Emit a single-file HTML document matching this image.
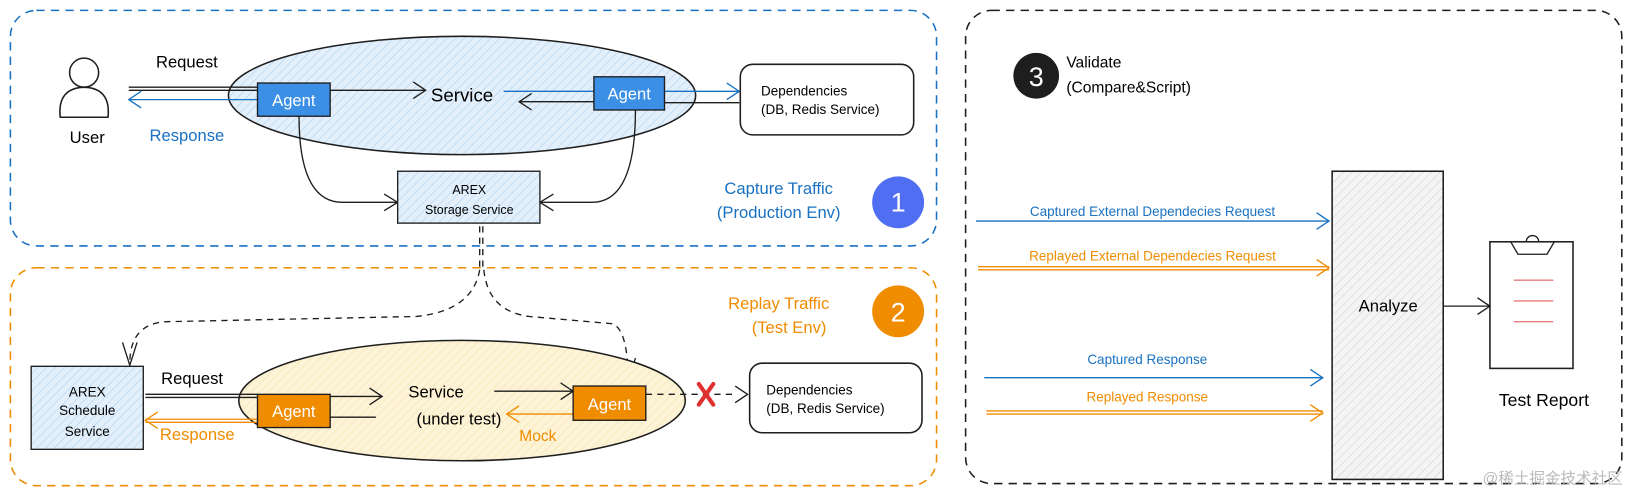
<!DOCTYPE html>
<html><head><meta charset="utf-8"><style>
html,body{margin:0;padding:0;background:#fff;}
svg{display:block;}
text{font-family:"Liberation Sans","Noto Sans CJK SC",sans-serif;}
</style></head><body>
<svg width="1627" height="495" viewBox="0 0 1567 477" preserveAspectRatio="none" xmlns="http://www.w3.org/2000/svg">
<defs>
<pattern id="hb" width="6" height="6" patternUnits="userSpaceOnUse" patternTransform="rotate(45)"><rect width="6" height="6" fill="#e3f0fb"/><line x1="0" y1="0" x2="0" y2="6" stroke="#a9cdef" stroke-width="1"/></pattern>
<pattern id="hy" width="6" height="6" patternUnits="userSpaceOnUse" patternTransform="rotate(45)"><rect width="6" height="6" fill="#fdf3d6"/><line x1="0" y1="0" x2="0" y2="6" stroke="#f3dfa8" stroke-width="1"/></pattern>
<pattern id="hg" width="6" height="6" patternUnits="userSpaceOnUse" patternTransform="rotate(45)"><rect width="6" height="6" fill="#f4f4f4"/><line x1="0" y1="0" x2="0" y2="6" stroke="#cfcfcf" stroke-width="1"/></pattern>
</defs>
<g fill="none" stroke-width="1.5">
<rect x="10" y="10" width="892" height="227" rx="25" stroke="#1971c2" stroke-dasharray="8 6"/>
<rect x="10" y="258" width="892" height="210" rx="25" stroke="#f08c00" stroke-dasharray="8 6"/>
<rect x="930" y="10" width="632" height="456" rx="25" stroke="#1e1e1e" stroke-dasharray="8 6"/>
</g>
<!-- user -->
<circle cx="81" cy="70" r="14" fill="none" stroke="#1e1e1e" stroke-width="1.5"/>
<path d="M58 113 Q55 85 81 84 Q107 85 104 113 Z" fill="none" stroke="#1e1e1e" stroke-width="1.5"/>
<text x="84" y="138" font-size="16" text-anchor="middle">User</text>
<!-- ellipse 1 -->
<ellipse cx="445" cy="92" rx="225" ry="57" fill="url(#hb)" stroke="#1e1e1e" stroke-width="1.5"/>
<text x="180" y="65" font-size="16" text-anchor="middle">Request</text>
<text x="180" y="136" font-size="16" text-anchor="middle" fill="#1971c2">Response</text>
<g stroke="#1e1e1e" stroke-width="1.3" fill="none">
<line x1="124" y1="84" x2="250" y2="84"/><line x1="124" y1="87" x2="250" y2="87"/>
<line x1="318" y1="87" x2="410" y2="87"/><path d="M398 79 L410 87 L398 95"/>
<line x1="500" y1="98" x2="575" y2="98"/><path d="M512 90 L500 98 L512 106"/>
<line x1="640" y1="99" x2="712" y2="99"/>
<path d="M288 112 Q288 195 330 195 L383 195"/><path d="M370 187 L383 195 L370 203"/>
<path d="M612 106 Q612 195 570 195 L520 195"/><path d="M533 187 L520 195 L533 203"/>
</g>
<g stroke="#1971c2" stroke-width="1.3" fill="none">
<line x1="124" y1="96" x2="248" y2="96"/><path d="M136 88 L124 96 L136 104"/>
<line x1="485" y1="88" x2="572" y2="88"/>
<line x1="640" y1="88" x2="712" y2="88"/><path d="M700 80 L712 88 L700 96"/>
</g>
<text x="445" y="98" font-size="18" text-anchor="middle">Service</text>
<rect x="248" y="80" width="70" height="32" fill="#3b8fe5" stroke="#1e1e1e" stroke-width="1.3"/>
<text x="283" y="102" font-size="16" fill="#fff" text-anchor="middle">Agent</text>
<rect x="572" y="74" width="68" height="32" fill="#3b8fe5" stroke="#1e1e1e" stroke-width="1.3"/>
<text x="606" y="96" font-size="16" fill="#fff" text-anchor="middle">Agent</text>
<rect x="713" y="62" width="167" height="68" rx="12" fill="#fff" stroke="#1e1e1e" stroke-width="1.5"/>
<text x="733" y="92" font-size="13">Dependencies</text>
<text x="733" y="110" font-size="13">(DB, Redis Service)</text>
<rect x="383" y="165" width="137" height="50" fill="url(#hb)" stroke="#1e1e1e" stroke-width="1.3"/>
<text x="452" y="187" font-size="12" text-anchor="middle">AREX</text>
<text x="452" y="206" font-size="12" text-anchor="middle">Storage Service</text>
<text x="750" y="187" font-size="16" fill="#1971c2" text-anchor="middle">Capture Traffic</text>
<text x="750" y="210" font-size="16" fill="#1971c2" text-anchor="middle">(Production Env)</text>
<circle cx="865" cy="195" r="25" fill="#4f6ef2"/>
<text x="865" y="204" font-size="26" fill="#fff" text-anchor="middle">1</text>
<!-- dashed links -->
<g stroke="#1e1e1e" stroke-width="1.3" fill="none" stroke-dasharray="6 5">
<line x1="462" y1="218" x2="462" y2="260"/><line x1="465" y1="218" x2="465" y2="260"/>
<path d="M462 260 Q455 300 400 305 L160 310 Q125 312 125 350"/>
<path d="M466 260 Q470 300 510 305 L590 312 Q605 318 605 368"/>
</g>
<g stroke="#1e1e1e" stroke-width="1.3" fill="none">
<path d="M118 330 L125 352 L132 330"/><path d="M598 345 L605 368 L612 345"/>
</g>
<!-- ellipse 2 -->
<ellipse cx="445" cy="386" rx="215" ry="58" fill="url(#hy)" stroke="#1e1e1e" stroke-width="1.5"/>
<rect x="30" y="353" width="108" height="80" fill="url(#hb)" stroke="#1e1e1e" stroke-width="1.3"/>
<text x="84" y="382" font-size="13" text-anchor="middle">AREX</text>
<text x="84" y="400" font-size="13" text-anchor="middle">Schedule</text>
<text x="84" y="420" font-size="13" text-anchor="middle">Service</text>
<text x="185" y="370" font-size="16" text-anchor="middle">Request</text>
<text x="190" y="424" font-size="16" fill="#f08c00" text-anchor="middle">Response</text>
<g stroke="#1e1e1e" stroke-width="1.3" fill="none">
<line x1="140" y1="380" x2="248" y2="380"/><line x1="140" y1="383" x2="248" y2="383"/>
<line x1="318" y1="382" x2="368" y2="382"/><path d="M356 374 L368 382 L356 390"/>
<line x1="476" y1="377" x2="552" y2="377"/><path d="M540 369 L552 377 L540 385"/>
<line x1="318" y1="402" x2="362" y2="402"/>
<line x1="622" y1="380" x2="710" y2="380" stroke-dasharray="6 5"/><path d="M708 372 L720 380 L708 388"/>
</g>
<g stroke="#f08c00" stroke-width="1.3" fill="none">
<line x1="140" y1="404" x2="248" y2="404"/><line x1="140" y1="407" x2="248" y2="407"/><path d="M152 397 L140 405 L152 413"/>
<line x1="488" y1="399" x2="552" y2="399"/><path d="M500 391 L488 399 L500 407"/>
</g>
<text x="420" y="383" font-size="16" text-anchor="middle">Service</text>
<text x="442" y="409" font-size="16" text-anchor="middle">(under test)</text>
<text x="518" y="425" font-size="15" fill="#f08c00" text-anchor="middle">Mock</text>
<rect x="248" y="380" width="70" height="32" fill="#f08c00" stroke="#1e1e1e" stroke-width="1.3"/>
<text x="283" y="402" font-size="16" fill="#fff" text-anchor="middle">Agent</text>
<rect x="552" y="372" width="70" height="33" fill="#f08c00" stroke="#1e1e1e" stroke-width="1.3"/>
<text x="587" y="395" font-size="16" fill="#fff" text-anchor="middle">Agent</text>
<g stroke="#e03131" stroke-width="4" stroke-linecap="round"><line x1="673" y1="370" x2="687" y2="390"/><line x1="687" y1="370" x2="673" y2="390"/></g>
<rect x="722" y="350" width="166" height="67" rx="12" fill="#fff" stroke="#1e1e1e" stroke-width="1.5"/>
<text x="738" y="380" font-size="13">Dependencies</text>
<text x="738" y="398" font-size="13">(DB, Redis Service)</text>
<text x="750" y="298" font-size="16" fill="#f08c00" text-anchor="middle">Replay Traffic</text>
<text x="760" y="321" font-size="16" fill="#f08c00" text-anchor="middle">(Test Env)</text>
<circle cx="865" cy="300" r="25" fill="#f08c00"/>
<text x="865" y="310" font-size="26" fill="#fff" text-anchor="middle">2</text>
<!-- validate -->
<circle cx="998" cy="73" r="22" fill="#1e1e1e"/>
<text x="998" y="83" font-size="26" fill="#fff" text-anchor="middle">3</text>
<text x="1027" y="65" font-size="15">Validate</text>
<text x="1027" y="89" font-size="15">(Compare&amp;Script)</text>
<rect x="1283" y="165" width="107" height="297" fill="url(#hg)" stroke="#1e1e1e" stroke-width="1.5"/>
<text x="1337" y="300" font-size="16" text-anchor="middle">Analyze</text>
<g stroke="#1971c2" stroke-width="1.3" fill="none">
<line x1="940" y1="213" x2="1280" y2="213"/><path d="M1268 205 L1280 213 L1268 221"/>
<line x1="948" y1="364" x2="1274" y2="364"/><path d="M1262 356 L1274 364 L1262 372"/>
</g>
<g stroke="#f08c00" stroke-width="1.3" fill="none">
<line x1="942" y1="257" x2="1280" y2="257"/><line x1="942" y1="260" x2="1280" y2="260"/><path d="M1268 250 L1280 258 L1268 266"/>
<line x1="950" y1="396" x2="1274" y2="396"/><line x1="950" y1="399" x2="1274" y2="399"/><path d="M1262 390 L1274 398 L1262 406"/>
</g>
<text x="1110" y="208" font-size="13" fill="#1971c2" text-anchor="middle">Captured External Dependecies Request</text>
<text x="1110" y="251" font-size="13" fill="#f08c00" text-anchor="middle">Replayed External Dependecies Request</text>
<text x="1105" y="351" font-size="13" fill="#1971c2" text-anchor="middle">Captured Response</text>
<text x="1105" y="387" font-size="13" fill="#f08c00" text-anchor="middle">Replayed Response</text>
<g stroke="#1e1e1e" stroke-width="1.3" fill="none">
<line x1="1390" y1="295" x2="1435" y2="295"/><path d="M1423 287 L1435 295 L1423 303"/>
<rect x="1435" y="233" width="80" height="122" stroke-width="1.5"/>
<path d="M1455 233 L1462 245 L1490 245 L1497 233"/>
<path d="M1470 233 A6 6 0 0 1 1482 233"/>
</g>
<g stroke="#e87a7a" stroke-width="1.3">
<line x1="1458" y1="270" x2="1496" y2="270"/><line x1="1458" y1="290" x2="1496" y2="290"/><line x1="1458" y1="310" x2="1496" y2="310"/>
</g>
<text x="1487" y="391" font-size="17" text-anchor="middle">Test Report</text>
<text x="1563" y="466" font-size="15" fill="#bbb" text-anchor="end">@稀土掘金技术社区</text>
</svg>
</body></html>
